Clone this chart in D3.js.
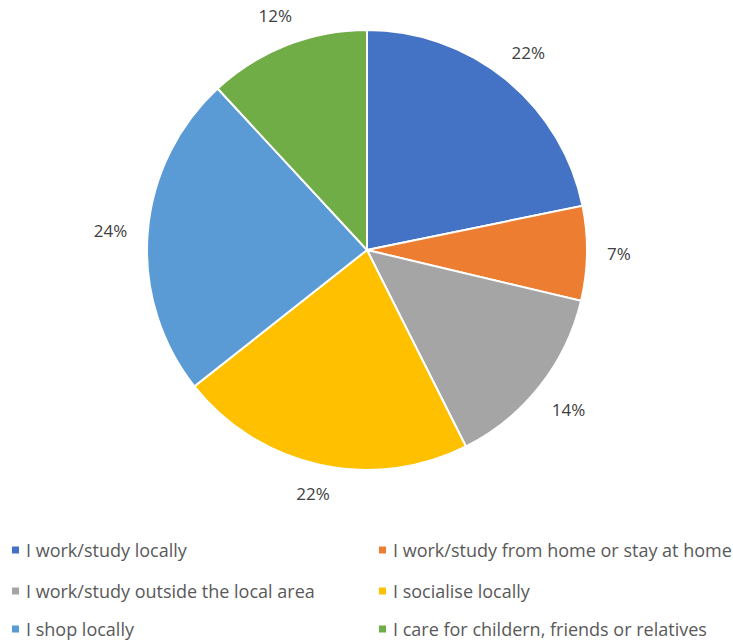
<!DOCTYPE html>
<html>
<head>
<meta charset="utf-8">
<script src="https://cdn.jsdelivr.net/npm/d3@7"></script>
<style>
  html, body { margin: 0; padding: 0; background: #fff; }
  svg { display: block; }
  text { font-family: "Open Sans", "Noto Sans", sans-serif; }
</style>
</head>
<body>
<svg id="chart" width="733" height="642"></svg>
<script>
// Activities people do in their local area (share of responses)
const categories = [
  "I work/study locally",
  "I work/study from home or stay at home",
  "I work/study outside the local area",
  "I socialise locally",
  "I shop locally",
  "I care for childern, friends or relatives"
];
const shares = [22, 7, 14, 22, 24, 12];
const colors = ["#4472C4", "#ED7D31", "#A5A5A5", "#FFC000", "#5B9BD5", "#70AD47"];

const data = categories.map((c, i) => ({ name: c, value: shares[i], color: colors[i] }));

const svg = d3.select("#chart");
const cx = 367, cy = 250, radius = 220, labelGap = 20;

const pie = d3.pie().sort(null).value(d => d.value);
const arc = d3.arc().innerRadius(0).outerRadius(radius);

const g = svg.append("g").attr("transform", `translate(${cx},${cy})`);
const arcs = pie(data);

g.selectAll("path.slice")
  .data(arcs)
  .join("path")
  .attr("class", "slice")
  .attr("d", arc)
  .attr("fill", d => d.data.color)
  .attr("stroke", "#fff")
  .attr("stroke-width", 2);

// Percentage labels sit just outside the rim; the label box is pushed out
// far enough along the slice's mid-angle that its nearest edge clears the pie.
const labels = g.selectAll("text.pct")
  .data(arcs)
  .join("text")
  .attr("class", "pct")
  .attr("text-anchor", "middle")
  .attr("dominant-baseline", "central")
  .attr("fill", "#404040")
  .style("font-size", "17px")
  .text(d => d.data.value + "%");

labels.each(function(d) {
  const box = this.getBBox();
  const a = (d.startAngle + d.endAngle) / 2;
  const s = Math.sin(a), c = Math.cos(a);
  const extent = Math.abs(s) * box.width / 2 + Math.abs(c) * 12 / 2;
  const r = radius + labelGap + extent;
  d3.select(this).attr("transform", `translate(${r * s},${-r * c})`);
});

// Legend: two columns, three rows
const legendX = [12, 379], legendY = [550, 591, 629];
const legend = svg.append("g");
const items = legend.selectAll("g.item")
  .data(data)
  .join("g")
  .attr("class", "item")
  .attr("transform", (d, i) => `translate(${legendX[i % 2]},${legendY[Math.floor(i / 2)]})`);

items.append("rect")
  .attr("x", 0).attr("y", -3.5)
  .attr("width", 7).attr("height", 7)
  .attr("fill", d => d.color);

items.append("text")
  .attr("x", 14)
  .attr("y", 0)
  .attr("dominant-baseline", "central")
  .attr("fill", "#595959")
  .style("font-size", "18px")
  .text(d => d.name);
</script>
</body>
</html>
